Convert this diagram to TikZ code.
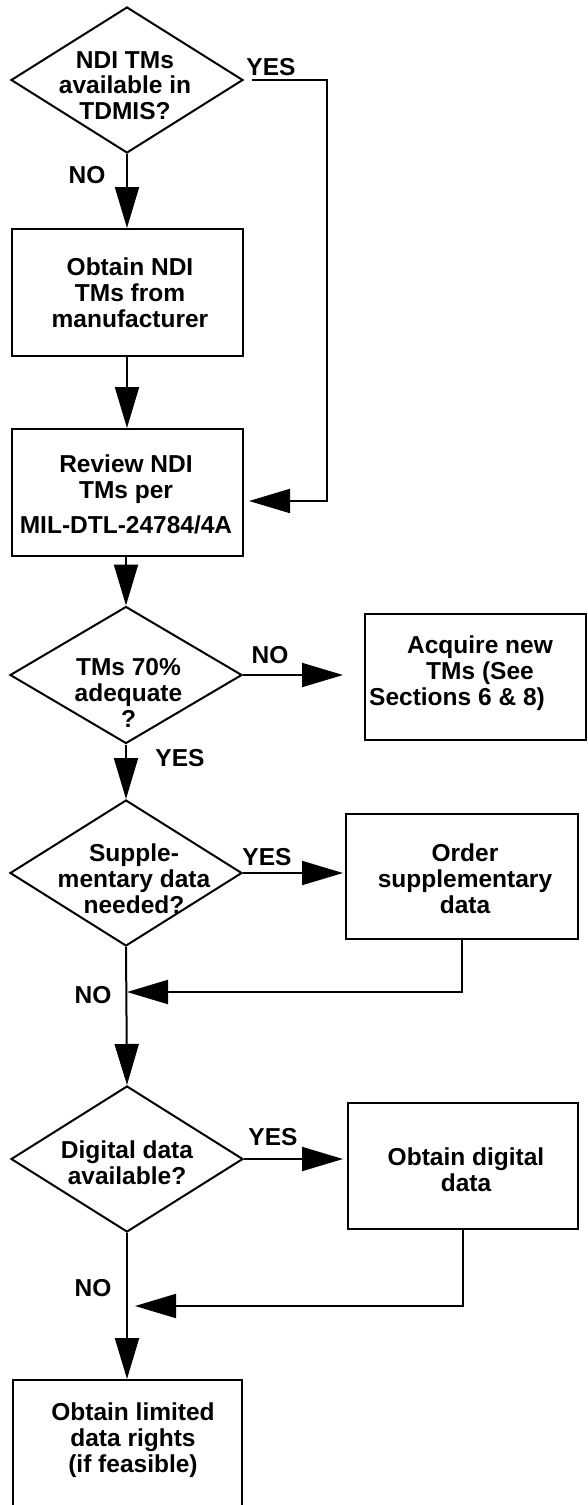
\documentclass[tikz,border=0pt]{standalone}
\usepackage{fontspec}
\setmainfont{Liberation Sans}
\usetikzlibrary{shapes.geometric,arrows.meta,calc}
\begin{document}
\begin{tikzpicture}[x=1pt,y=-1pt,
  every node/.style={font=\bfseries\fontsize{24.5}{25.8}\selectfont},
  dia/.style={draw,line width=2pt,diamond,minimum width=232pt,minimum height=146pt,inner sep=0pt},
  box/.style={draw,line width=2pt,rectangle,minimum width=231pt,minimum height=127pt,inner sep=0pt},
  txt/.style={align=center,inner sep=0pt},
  lbl/.style={inner sep=0pt},
  conn/.style={line width=2pt,-{Triangle[length=41pt,width=24pt]}}]
\useasboundingbox (0,0) rectangle (587,1505);
% main column
\node[dia] (d1) at (127,80) {};
\node[txt] (t1) at (125,85.5) {NDI TMs\\available in\\TDMIS?};
\node[box] (b1) at (127.5,292.5) {};
\node[txt] (tb1) at (130,292.5) {Obtain NDI\\TMs from\\manufacturer};
\node[box] (b2) at (127.5,492.5) {};
\node[txt] (tb2) at (126,494.5) {Review NDI\\TMs per\\[9pt]MIL-DTL-24784/4A};
\node[dia,minimum height=137pt] (d2) at (126,675) {};
\node[txt] (t2) at (128.5,693) {TMs 70\%\\adequate\\?};
\node[dia] (d3) at (126,873) {};
\node[txt] (t3) at (134,879) {Supple-\\mentary data\\needed?};
\node[dia] (d4) at (127,1159) {};
\node[txt] (t4) at (127,1163) {Digital data\\available?};
\node[box,minimum width=229pt,minimum height=126pt] (b5) at (127.5,1443) {};
\node[txt] (tb5) at (133,1440) {Obtain limited\\data rights\\(if feasible)};
% right column
\node[box,minimum width=221pt,minimum height=126pt] (acq) at (475.5,677) {};
\node[txt] (tacq) at (480,673) {Acquire new\\TMs (See\\\hspace*{-46pt}Sections 6 \& 8)};
\node[box,minimum width=232pt,minimum height=125pt] (ord) at (462,876.5) {};
\node[txt] (tord) at (465,878.5) {Order\\supplementary\\data};
\node[box,minimum width=230pt,minimum height=126pt] (dig) at (463,1166) {};
\node[txt] (tdig) at (466,1169.5) {Obtain digital\\data};
% labels
\node[lbl] (y1) at (271,67) {YES};
\node[lbl] (n1) at (87,175) {NO};
\node[lbl] (n2) at (270,655) {NO};
\node[lbl] (y2) at (180,758) {YES};
\node[lbl] (y3) at (267,857) {YES};
\node[lbl] (n3) at (93,995) {NO};
\node[lbl] (y4) at (273,1137) {YES};
\node[lbl] (n4) at (93,1288) {NO};
% corners
\coordinate (c1) at (327,80);
\coordinate (c2) at (327,501);
\coordinate (j3) at (127,992);
\coordinate (j4) at (127,1306);
% connectors
\draw[conn] (d1.south) -- (d1.south |- b1.north);
\draw[conn,shorten <=8pt,shorten >=5pt] (d1.east) -- (c1) -- (c2) -- (c2 -| b2.east);
\draw[conn] (b1.south -| d1.south) -- (d1.south |- b2.north);
\draw[conn] (b2.south -| d2.north) -- (d2.north);
\draw[conn,shorten >=21pt] (d2.east) -- (d2.east -| acq.west);
\draw[conn] (d2.south) -- (d3.north);
\draw[conn,shorten >=2pt] (d3.east) -- (d3.east -| ord.west);
\draw[conn] (ord.south) |- (j3);
\draw[conn] (d3.south) -- (d4.north);
\draw[conn,shorten >=4pt] (d4.east) -- (d4.east -| dig.west);
\draw[conn,shorten >=8pt] (dig.south) |- (j4);
\draw[conn] (d4.south) -- (d4.south |- b5.north);
\end{tikzpicture}
\end{document}
